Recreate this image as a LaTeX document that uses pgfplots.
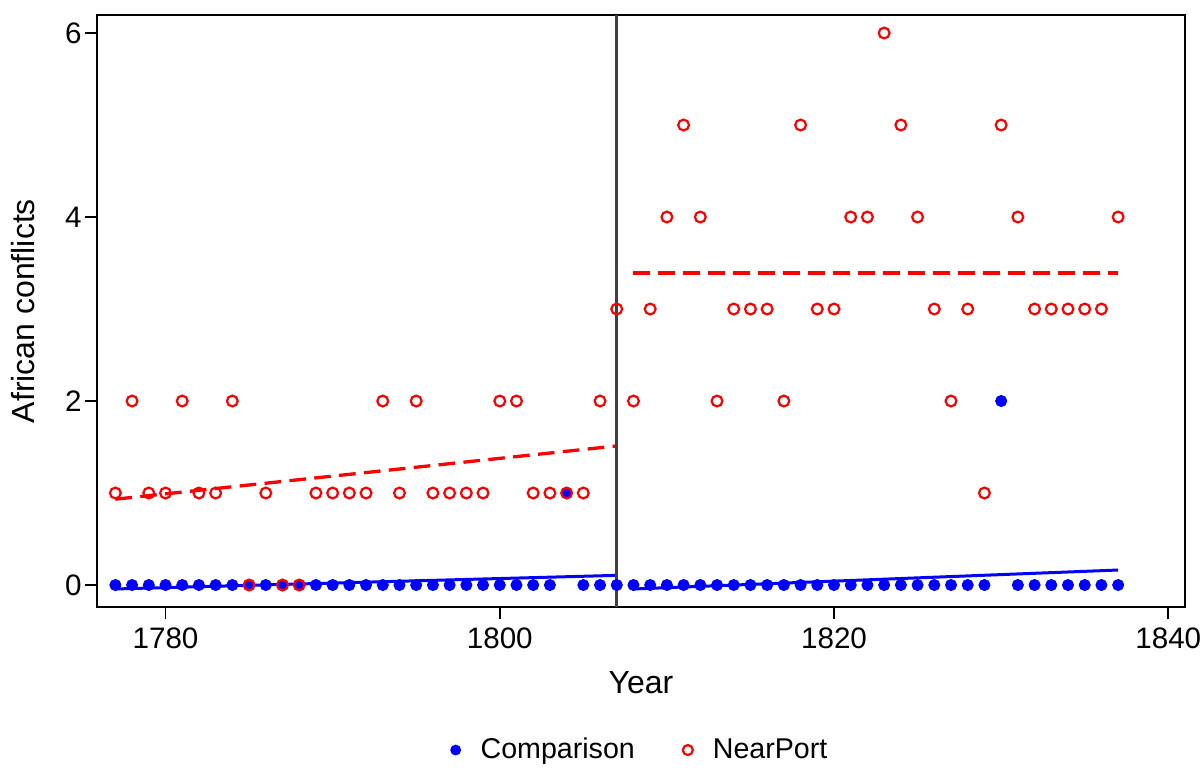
\documentclass[border=0pt]{standalone}
\usepackage{fontspec}
\setmainfont{Liberation Sans}
\usepackage{pgfplots}
\pgfplotsset{compat=1.18}
\pgfplotstableread{
year val
1777 0
1778 0
1779 0
1780 0
1781 0
1782 0
1783 0
1784 0
1785 0
1786 0
1787 0
1788 0
1789 0
1790 0
1791 0
1792 0
1793 0
1794 0
1795 0
1796 0
1797 0
1798 0
1799 0
1800 0
1801 0
1802 0
1803 0
1804 1
1805 0
1806 0
1807 0
1808 0
1809 0
1810 0
1811 0
1812 0
1813 0
1814 0
1815 0
1816 0
1817 0
1818 0
1819 0
1820 0
1821 0
1822 0
1823 0
1824 0
1825 0
1826 0
1827 0
1828 0
1829 0
1830 2
1831 0
1832 0
1833 0
1834 0
1835 0
1836 0
1837 0
}\comparison
\pgfplotstableread{
year val
1777 1
1778 2
1779 1
1780 1
1781 2
1782 1
1783 1
1784 2
1785 0
1786 1
1787 0
1788 0
1789 1
1790 1
1791 1
1792 1
1793 2
1794 1
1795 2
1796 1
1797 1
1798 1
1799 1
1800 2
1801 2
1802 1
1803 1
1804 1
1805 1
1806 2
1807 3
1808 2
1809 3
1810 4
1811 5
1812 4
1813 2
1814 3
1815 3
1816 3
1817 2
1818 5
1819 3
1820 3
1821 4
1822 4
1823 6
1824 5
1825 4
1826 3
1827 2
1828 3
1829 1
1830 5
1831 4
1832 3
1833 3
1834 3
1835 3
1836 3
1837 4
}\nearport
\begin{document}
\begin{tikzpicture}
\path[use as bounding box] (-48.5pt,-80pt) rectangle (553pt,303.5pt);
\begin{axis}[
  at={(0,0)}, anchor=south west,
  scale only axis, width=544pt, height=296pt,
  xmin=1775.9, xmax=1841, ymin=-0.239, ymax=6.196,
  xtick={1780,1800,1820,1840}, ytick={0,2,4,6},
  /pgf/number format/set thousands separator={},
  /pgf/number format/assume math mode=true,
  tick align=outside, xtick pos=bottom, ytick pos=left,
  major tick length=6pt,
  axis line style={line width=0.8pt},
  every tick/.style={black, line width=0.8pt},
  tick label style={font=\fontsize{14.8}{17}\selectfont},
  yticklabel style={xshift=1.8pt},
  xticklabel style={yshift=-1pt},
  xlabel={Year}, ylabel={African conflicts},
  label style={font=\fontsize{16}{19}\selectfont},
  xlabel style={at={(axis description cs:0.5,-0.1284)}, anchor=center},
  ylabel style={at={(axis description cs:-0.068,0.5)}, anchor=center, rotate=0},
  legend columns=2,
  legend style={draw=none, at={(0.5,-0.2416)}, anchor=center,
    font=\fontsize{14.3}{17}\selectfont,
    /tikz/every odd column/.append style={column sep=8pt},
    /tikz/every even column/.append style={column sep=22pt}},
  legend image post style={mark size=2.5pt},
  clip=true,
]
\addplot[only marks, mark=*, mark size=2.8pt, color=blue, fill=blue] table[x=year,y=val] {\comparison};
\addlegendentry{Comparison}
\addplot[only marks, mark=o, mark size=2.7pt, color=red, mark options={line width=1.1pt}] table[x=year,y=val] {\nearport};
\addlegendentry{NearPort}
\addplot[forget plot, blue, line width=1.5pt] coordinates {(1777,-0.043) (1807,0.105)};
\addplot[forget plot, blue, line width=1.5pt] coordinates {(1808,-0.043) (1837,0.163)};
\addplot[forget plot, red, line width=1.65pt, dash pattern=on 8.3pt off 4.2pt] coordinates {(1777,0.933) (1807,1.512)};
\addplot[forget plot, red, line width=1.65pt, dash pattern=on 8.3pt off 4.2pt] coordinates {(1808,3.39) (1837,3.39)};
\addplot[forget plot, black!75, line width=1.3pt] coordinates {(1807,-0.239) (1807,6.196)};
\end{axis}
\end{tikzpicture}
\end{document}
